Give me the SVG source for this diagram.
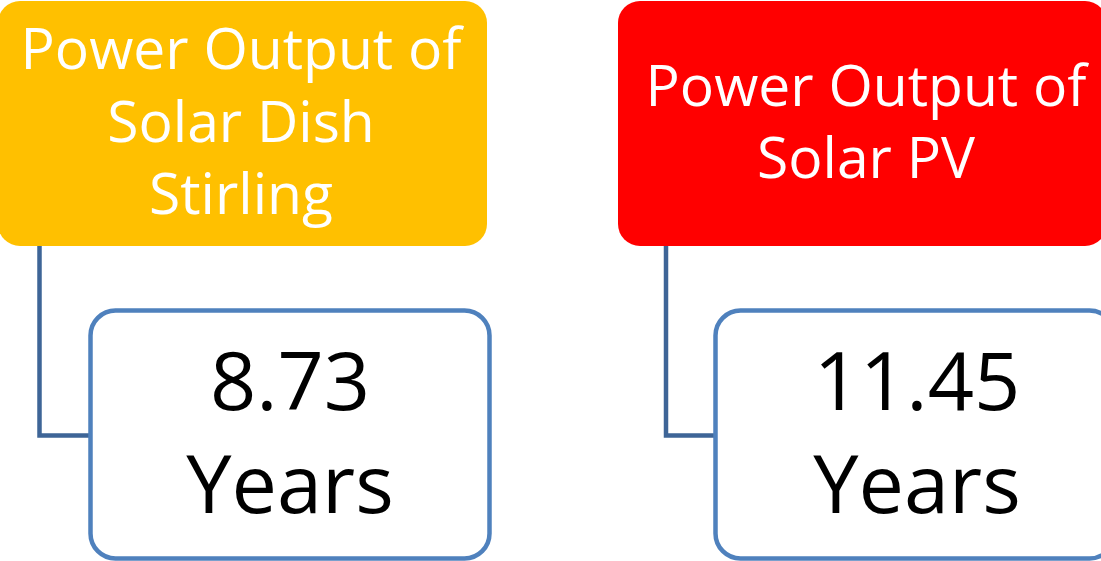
<svg xmlns="http://www.w3.org/2000/svg" width="1101" height="561" viewBox="0 0 1101 561">
<style>
.hdr{font-family:"Open Sans","Liberation Sans",sans-serif;font-size:57px;fill:#FFFFFF;text-anchor:middle}
.val{font-family:"Open Sans","Liberation Sans",sans-serif;font-size:81px;fill:#000000;text-anchor:middle}
.child{fill:#FFFFFF;stroke:#4F81BD;stroke-width:4.5}
.conn{fill:none;stroke:#3E6597;stroke-width:4.5}
</style>
<rect width="1101" height="561" fill="#FFFFFF"/>
<g id="connectors">
<path class="conn" d="M39.5,246 V435.5 H90.5"/>
<path class="conn" d="M666,246 V435.5 H715.5"/>
</g>
<g id="node-dish">
<rect x="-2" y="1" width="489" height="245" rx="22" fill="#FFC000"/>
<text class="hdr" x="241" y="69">Power Output of</text>
<text class="hdr" x="241" y="142">Solar Dish</text>
<text class="hdr" x="241" y="214">Stirling</text>
</g>
<g id="node-pv">
<rect x="618" y="1" width="489" height="245" rx="22" fill="#FF0000"/>
<text class="hdr" x="866" y="106">Power Output of</text>
<text class="hdr" x="866" y="178">Solar PV</text>
</g>
<g id="node-dish-value">
<rect class="child" x="90.5" y="310.5" width="399" height="248" rx="25"/>
<text class="val" x="290" y="410">8.73</text>
<text class="val" x="290" y="513">Years</text>
</g>
<g id="node-pv-value">
<rect class="child" x="715.5" y="310.5" width="399" height="248" rx="25"/>
<text class="val" x="917" y="410">11.45</text>
<text class="val" x="917" y="513">Years</text>
</g>
</svg>
